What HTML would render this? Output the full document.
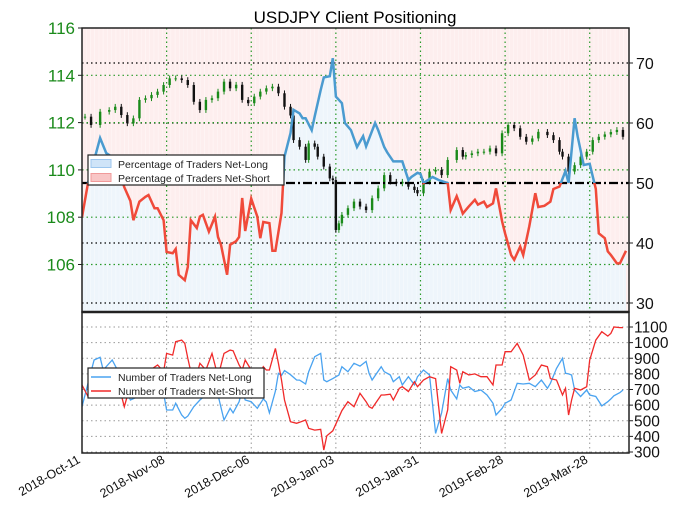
<!DOCTYPE html>
<html><head><meta charset="utf-8"><style>
body{margin:0;background:#fff;}
svg{display:block;font-family:"Liberation Sans","DejaVu Sans",sans-serif;}
</style></head><body>
<svg id="chart" width="679" height="518" viewBox="0 0 679 518" xmlns="http://www.w3.org/2000/svg">
<text x="355" y="23" font-size="17" text-anchor="middle" fill="#000">USDJPY Client Positioning</text>
<defs>
<clipPath id="topClip"><rect x="82" y="28" width="547" height="284"/></clipPath>
<clipPath id="aboveHalf"><rect x="82" y="28" width="547" height="155"/></clipPath>
<clipPath id="belowHalf"><rect x="82" y="183" width="547" height="129"/></clipPath>
<clipPath id="botClip"><rect x="82" y="312" width="547" height="141"/></clipPath>
</defs>
<g id="topPanel" clip-path="url(#topClip)"></g>
<g id="botPanel" clip-path="url(#botClip)"></g>
<g id="axesG"></g>
</svg>
<script>
// shared x (days since 2018-10-11)
const dateTickLabels=["2018-Oct-11","2018-Nov-08","2018-Dec-06","2019-Jan-03","2019-Jan-31","2019-Feb-28","2019-Mar-28"];
const dateTickDays=[0,28,56,84,112,140,168];
// percentage net-long
const pctDays=[0,2,6,8,11,14,16,17,19,21,22,24,25,27,28,30,31,32,34,35,36,38,39,40,42,44,45,46,48,49,51,52,53,54,56,58,59,60,62,63,64,66,67,69,70,72,73,74,76,77,79,80,82,83,84,86,87,89,91,93,94,97,98,100,101,103,106,108,109,111,112,113,116,118,121,122,124,125,126,128,130,131,133,134,136,137,139,140,142,143,145,146,148,150,151,153,155,156,158,160,161,163,164,166,168,170,171,173,174,175,177,178,180];
const pctLong=[44.3,50,57.5,55,54,49.3,47,43.8,46.9,47.7,48,45.8,45.8,43.8,38.5,38.3,39,34.7,33.8,36,43.8,42.5,44.4,44.7,41.9,44.4,41,39.7,34.7,39.7,40.3,41,47.5,42,47.4,44.4,40.8,43.5,43.3,38.7,38.7,45,54.4,58.3,62.2,61.6,60.8,60.8,58.8,61.1,65.5,67.6,67.8,70.8,64.4,63.3,60,58.8,56,57.8,56.1,60,58.8,56,55.1,53.6,53.6,50.5,51,51.7,51.5,50,51,50.5,50,45.5,47.8,46.4,44.9,46.1,47.2,46.4,46.9,46,46.6,49.1,43.6,41.6,38,37.2,39.4,38,42.8,48.3,46,46.2,46.9,49,49.4,52,50,60.8,57.8,53,53.2,49,41.6,40.8,38.6,38,36.6,36.6,38.7];
// price closes
const pxDays=[1,3,6,9,11,13,15,17,19,21,23,25,27,29,31,33,35,37,39,41,43,45,47,49,51,53,55,57,59,61,63,65,67,69,70,72,74,75,77,78,80,82,83,84,85,86,88,90,92,94,96,98,100,102,104,106,108,110,111,113,115,117,119,121,124,126,127,129,131,133,135,137,139,141,143,145,147,149,151,154,156,158,159,161,163,165,167,169,171,173,175,177,179];
const closes=[112.25,111.9,112.46,112.53,112.67,112.32,111.97,112.18,112.96,113.03,113.17,113.31,113.59,113.87,113.87,113.8,113.59,112.88,112.53,112.96,113.03,113.31,113.73,113.45,113.6,112.96,112.82,113.1,113.31,113.45,113.52,113.24,112.67,112.3,111.26,110.98,110.42,111.12,110.98,110.56,110.14,109.64,109.57,107.46,107.74,108.1,108.38,108.66,108.45,108.3,108.8,109.22,109.78,109.5,109.43,109.5,109.29,109.15,109.01,109.5,109.93,110.0,109.78,110.42,110.84,110.56,110.63,110.7,110.77,110.77,110.91,110.7,111.55,111.9,111.76,111.4,111.19,111.33,111.61,111.47,111.26,110.77,110.56,109.93,110.2,110.56,110.77,111.26,111.4,111.5,111.6,111.69,111.4];
// trader counts
const cntDays=[0,2,4,6,7,10,12,14,16,18,21,25,27,28,30,31,33,34,35,37,39,41,43,45,47,49,50,52,53,54,56,58,60,61,62,64,65,66,67,69,71,72,74,75,77,79,80,81,83,85,86,88,90,92,94,95,96,99,100,102,103,105,106,108,110,111,113,115,117,119,121,122,124,125,126,128,130,132,134,136,137,139,140,142,144,146,148,150,152,154,155,157,159,160,161,162,163,165,167,168,170,172,174,175,176,178,179];
const netLong=[590,740,889,906,825,889,814,718,633,650,690,761,676,569,569,612,537,516,530,590,633,665,650,665,505,580,550,622,697,633,622,580,640,620,550,690,804,790,821,795,761,760,735,814,910,931,761,750,770,793,846,814,868,850,880,803,761,846,814,793,750,782,729,782,730,782,825,793,419,550,770,697,640,729,708,718,687,697,665,612,537,580,612,633,740,735,740,718,761,708,740,835,900,804,800,793,697,655,697,665,655,595,622,640,660,680,697];
const netShort=[729,655,718,750,750,730,740,590,729,760,804,857,814,931,920,1006,1016,995,900,729,868,825,931,782,931,952,948,857,825,889,825,761,846,825,825,963,868,761,633,494,484,490,505,451,440,445,313,404,436,522,565,622,590,676,622,590,580,665,665,670,633,708,718,687,750,718,761,782,770,419,570,846,825,740,814,793,800,782,782,729,857,857,942,942,995,920,761,793,857,846,770,761,665,708,537,633,708,697,718,889,1016,1070,1042,1060,1100,1096,1096];

const X0=82,X1=629,DMAX=181;
const xS=d=>X0+(X1-X0)*d/DMAX;
const yPct=v=>183-(v-50)*6;
const yPx=p=>28+(116-p)*23.65;
const yCnt=v=>327+(1100-v)*0.15625;
const NS="http://www.w3.org/2000/svg";
function mk(tag,parent,attrs){const e=document.createElementNS(NS,tag);for(const k in attrs)e.setAttribute(k,attrs[k]);parent.appendChild(e);return e;}
function pts(days,vals,yf){const n=Math.min(days.length,vals.length);const out=[];for(let i=0;i<n;i++)out.push(xS(days[i]).toFixed(1)+','+yf(vals[i]).toFixed(1));return out;}
const topG=document.getElementById('topPanel'),botG=document.getElementById('botPanel'),axG=document.getElementById('axesG');

// top background
let bg=mk('rect',topG,{x:82,y:28,width:547,height:284,fill:'#fdeeee'});


const pctPts=pts(pctDays,pctLong,yPct);
let area=mk('polygon',topG,{points:xS(pctDays[0])+',312 '+pctPts.join(' ')+' '+xS(pctDays[pctDays.length-1])+',312',fill:'#eef5fb'});


for(let d=0;d<DMAX;d+=1.4){mk('line',topG,{x1:xS(d),x2:xS(d),y1:28,y2:312,stroke:'#ffffff','stroke-width':0.6,opacity:0.5});}
// grid
[70,60,40,30].forEach(v=>{let g=mk('line',topG,{x1:82,x2:629,y1:yPct(v),y2:yPct(v),stroke:'#000','stroke-dasharray':'1.5,3','stroke-width':1.2});

});
[114,112,110,108,106].forEach(v=>{let g=mk('line',topG,{x1:82,x2:629,y1:yPx(v),y2:yPx(v),stroke:'#2a9a2a','stroke-dasharray':'1.5,3','stroke-width':1.2});

});
dateTickDays.slice(1).forEach(d=>{let g=mk('line',topG,{x1:xS(d),x2:xS(d),y1:28,y2:312,stroke:'#2a9a2a','stroke-dasharray':'1.5,3','stroke-width':1.2});

});
// candles
const nC=Math.min(closes.length,pxDays.length);
for(let i=0;i<nC;i++){const c=closes[i];const o=i?closes[i-1]:c;const up=c>=o;const col=up?'#1a8a1a':'#111';const cx=xS(pxDays[i]);
 let w=mk('line',topG,{x1:cx,x2:cx,y1:yPx(Math.max(o,c)+0.12),y2:yPx(Math.min(o,c)-0.12),stroke:col,'stroke-width':1});
 
 
 let b=mk('rect',topG,{x:cx-1.2,y:yPx(Math.max(o,c)),width:2.4,height:Math.max(1,Math.abs(yPx(o)-yPx(c))),fill:col});
 
 }
// 50 line
let fifty=mk('line',topG,{x1:82,x2:629,y1:yPct(50),y2:yPct(50),stroke:'#000','stroke-width':2.2,'stroke-dasharray':'9,3,2,3'});


let lb=mk('polyline',topG,{points:pctPts.join(' '),fill:'none',stroke:'#4a9bd0','stroke-width':2.5,'clip-path':'url(#aboveHalf)'});


let lr=mk('polyline',topG,{points:pctPts.join(' '),fill:'none',stroke:'#f04a3a','stroke-width':2.5,'clip-path':'url(#belowHalf)'});



// bottom
for(let v=300;v<=1100;v+=100){let g=mk('line',botG,{x1:82,x2:629,y1:yCnt(v),y2:yCnt(v),stroke:'#999','stroke-dasharray':'1.5,3'});

}
dateTickDays.slice(1).forEach(d=>{let g=mk('line',botG,{x1:xS(d),x2:xS(d),y1:312,y2:453,stroke:'#999','stroke-dasharray':'1.5,3'});

});
let cl=mk('polyline',botG,{points:pts(cntDays,netLong,yCnt).join(' '),fill:'none',stroke:'#4aa3f0','stroke-width':1.3});


let cs=mk('polyline',botG,{points:pts(cntDays,netShort,yCnt).join(' '),fill:'none',stroke:'#f02a2a','stroke-width':1.3});



// frames
let f1=mk('rect',axG,{x:82,y:28,width:547,height:284,fill:'none',stroke:'#222','stroke-width':1.5});


let f2=mk('rect',axG,{x:82,y:312,width:547,height:141,fill:'none',stroke:'#222','stroke-width':1.5});


mk('line',axG,{x1:82,x2:629,y1:312,y2:312,stroke:'#222','stroke-width':2.5});
[116,114,112,110,108,106].forEach(v=>{mk('line',axG,{x1:78,x2:82,y1:yPx(v),y2:yPx(v),stroke:'#222'});
 let t=mk('text',axG,{x:75,y:yPx(v)+6,'font-size':17,'text-anchor':'end',fill:'#1a8a1a'});t.textContent=v;
 
 });
[70,60,50,40,30].forEach(v=>{mk('line',axG,{x1:629,x2:633,y1:yPct(v),y2:yPct(v),stroke:'#222'});
 let t=mk('text',axG,{x:636,y:yPct(v)+6,'font-size':16,fill:'#111'});t.textContent=v;
 
 });
for(let v=300;v<=1100;v+=100){mk('line',axG,{x1:629,x2:633,y1:yCnt(v),y2:yCnt(v),stroke:'#222'});
 let t=mk('text',axG,{x:634,y:yCnt(v)+5.5,'font-size':15.5,fill:'#111'});t.textContent=v;
 
 }
dateTickDays.forEach((d,i)=>{let t=mk('text',axG,{transform:`translate(${xS(d)-1},462) rotate(-30)`,'font-size':12.5,'text-anchor':'end',fill:'#111'});t.textContent=dateTickLabels[i];
 
 });

function legend(y,h,items,w,patch){const g=mk('g',axG,{});
 
 
 mk('rect',g,{x:88,y:y,width:w,height:h,fill:'#fff',stroke:'#222','stroke-width':1.2});
 items.forEach((it,i)=>{const yy=y+9+i*14;
  if(patch) mk('rect',g,{x:91,y:yy-4.5,width:20,height:8,fill:it[1],stroke:it[2]});
  else mk('line',g,{x1:91,x2:111,y1:yy,y2:yy,stroke:it[1],'stroke-width':1.5});
  let t=mk('text',g,{x:118,y:yy+4,'font-size':10.5,fill:'#222'});t.textContent=it[0];
  
  });}
legend(155,30,[["Percentage of Traders Net-Long","#cfe4f8","#9cc6ee"],["Percentage of Traders Net-Short","#f8c6c6","#f09a9a"]],196,true);
legend(368,30,[["Number of Traders Net-Long","#4aa3f0"],["Number of Traders Net-Short","#f02a2a"]],176,false);
</script>
</body></html>
